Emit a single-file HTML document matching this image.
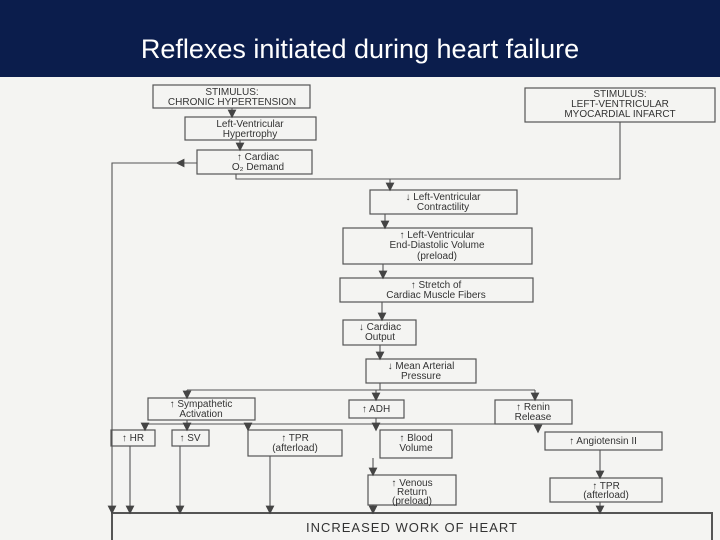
<!DOCTYPE html>
<html><head><style>
body{margin:0;width:720px;height:540px;overflow:hidden;background:#f4f4f2;font-family:"Liberation Sans",sans-serif}
.hd{position:absolute;left:0;top:0;width:720px;height:77px;background:#0b1d4c;color:#fff;font-size:27px;text-align:center;line-height:98px}
svg{position:absolute;left:0;top:0}
text{font-family:"Liberation Sans",sans-serif;fill:#333;font-size:10px;text-anchor:middle}
</style></head><body>
<div class="hd">Reflexes initiated during heart failure</div>
<svg width="720" height="540" viewBox="0 0 720 540">
<defs><marker id="a" markerWidth="8" markerHeight="8" refX="4" refY="4" orient="auto"><path d="M0,0L8,4L0,8z" fill="#444"/></marker></defs>
<g fill="none" stroke="#555" stroke-width="1.2">
<rect x="153" y="85" width="157" height="23"/>
<rect x="525" y="88" width="190" height="34"/>
<rect x="185" y="117" width="131" height="23"/>
<rect x="197" y="150" width="115" height="24"/>
<rect x="370" y="190" width="147" height="24"/>
<rect x="343" y="228" width="189" height="36"/>
<rect x="340" y="278" width="193" height="24"/>
<rect x="343" y="320" width="73" height="25"/>
<rect x="366" y="359" width="110" height="24"/>
<rect x="148" y="398" width="107" height="22"/>
<rect x="349" y="400" width="55" height="18"/>
<rect x="495" y="400" width="77" height="24"/>
<rect x="111" y="430" width="44" height="16"/>
<rect x="172" y="430" width="37" height="16"/>
<rect x="248" y="430" width="94" height="26"/>
<rect x="380" y="430" width="72" height="28"/>
<rect x="545" y="432" width="117" height="18"/>
<rect x="368" y="475" width="88" height="30"/>
<rect x="550" y="478" width="112" height="24"/>
<rect x="112" y="513" width="600" height="30" stroke-width="2"/>
</g>
<g fill="none" stroke="#555" stroke-width="1.1">
<path d="M232 108V114" marker-end="url(#a)"/>
<path d="M240 140V147" marker-end="url(#a)"/>
<path d="M197 163H180" marker-end="url(#a)"/>
<path d="M180 163H112V510" marker-end="url(#a)"/>
<path d="M236 174V179H620V122"/>
<path d="M390 179V187" marker-end="url(#a)"/>
<path d="M385 214V225" marker-end="url(#a)"/>
<path d="M383 264V275" marker-end="url(#a)"/>
<path d="M382 302V317" marker-end="url(#a)"/>
<path d="M380 345V356" marker-end="url(#a)"/>
<path d="M380 383V390"/>
<path d="M187 390H535"/>
<path d="M187 390V395" marker-end="url(#a)"/>
<path d="M376 390V397" marker-end="url(#a)"/>
<path d="M535 390V397" marker-end="url(#a)"/>
<path d="M145 424H538"/>
<path d="M145 424V427" marker-end="url(#a)"/>
<path d="M187 420V427" marker-end="url(#a)"/>
<path d="M248 424V427" marker-end="url(#a)"/>
<path d="M376 418V427" marker-end="url(#a)"/>
<path d="M538 424V429" marker-end="url(#a)"/>
<path d="M130 446V510" marker-end="url(#a)"/>
<path d="M180 446V510" marker-end="url(#a)"/>
<path d="M270 456V510" marker-end="url(#a)"/>
<path d="M373 458V472" marker-end="url(#a)"/>
<path d="M373 505V510" marker-end="url(#a)"/>
<path d="M600 450V475" marker-end="url(#a)"/>
<path d="M600 502V510" marker-end="url(#a)"/>
</g>
<g>
<text x="232" y="95">STIMULUS:</text><text x="232" y="105">CHRONIC HYPERTENSION</text>
<text x="620" y="97">STIMULUS:</text><text x="620" y="107">LEFT-VENTRICULAR</text><text x="620" y="117">MYOCARDIAL INFARCT</text>
<text x="250" y="127">Left-Ventricular</text><text x="250" y="137">Hypertrophy</text>
<text x="258" y="160">↑ Cardiac</text><text x="258" y="170">O₂ Demand</text>
<text x="443" y="200">↓ Left-Ventricular</text><text x="443" y="210">Contractility</text>
<text x="437" y="238">↑ Left-Ventricular</text><text x="437" y="248">End-Diastolic Volume</text><text x="437" y="259">(preload)</text>
<text x="436" y="288">↑ Stretch of</text><text x="436" y="298">Cardiac Muscle Fibers</text>
<text x="380" y="330">↓ Cardiac</text><text x="380" y="340">Output</text>
<text x="421" y="369">↓ Mean Arterial</text><text x="421" y="379">Pressure</text>
<text x="201" y="407">↑ Sympathetic</text><text x="201" y="417">Activation</text>
<text x="376" y="412">↑ ADH</text>
<text x="533" y="410">↑ Renin</text><text x="533" y="420">Release</text>
<text x="133" y="441">↑ HR</text>
<text x="190" y="441">↑ SV</text>
<text x="295" y="441">↑ TPR</text><text x="295" y="451">(afterload)</text>
<text x="416" y="441">↑ Blood</text><text x="416" y="451">Volume</text>
<text x="603" y="444">↑ Angiotensin II</text>
<text x="412" y="486">↑ Venous</text><text x="412" y="495">Return</text><text x="412" y="504">(preload)</text>
<text x="606" y="489">↑ TPR</text><text x="606" y="498">(afterload)</text>
<text x="412" y="532" style="font-size:13px;letter-spacing:1px">INCREASED WORK OF HEART</text>
</g>
</svg>
</body></html>
